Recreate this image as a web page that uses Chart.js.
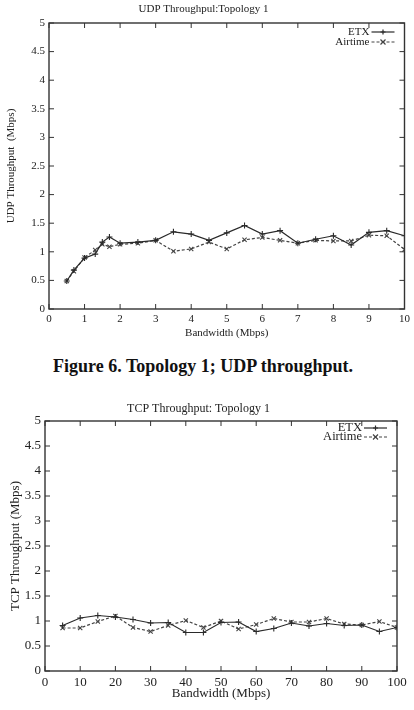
<!DOCTYPE html>
<html>
<head>
<meta charset="utf-8">
<script src="https://cdn.jsdelivr.net/npm/chart.js@4.4.1/dist/chart.umd.min.js"></script>
<style>
  body { margin: 0; background: #fff; width: 414px; height: 710px; position: relative; overflow: hidden; }
  .box { position: absolute; left: 0; width: 414px; }
  #caption {
    position: absolute; left: 0; width: 414px; top: 356px; text-align: center;
    font: bold 18px "Liberation Serif", "DejaVu Serif", serif; color: #111;
    padding-right: 8px; box-sizing: border-box;
  }
</style>
</head>
<body>
<div class="box" style="top:0;height:350px"><canvas id="udpChart" width="414" height="350"></canvas></div>
<div id="caption">Figure 6. Topology 1; UDP throughput.</div>
<div class="box" style="top:400px;height:310px"><canvas id="tcpChart" width="414" height="310"></canvas></div>
<script>
// UDP throughput, topology 1 (Mbps)
const udpBandwidth = [0.5, 0.7, 1, 1.3, 1.5, 1.7, 2, 2.5, 3, 3.5, 4, 4.5, 5, 5.5, 6, 6.5, 7, 7.5, 8, 8.5, 9, 9.5, 10];
const udpEtx     = [0.49, 0.68, 0.89, 0.96, 1.17, 1.26, 1.15, 1.17, 1.20, 1.35, 1.31, 1.20, 1.33, 1.46, 1.31, 1.37, 1.15, 1.22, 1.28, 1.12, 1.34, 1.37, 1.28];
const udpAirtime = [0.49, 0.66, 0.90, 1.03, 1.13, 1.09, 1.13, 1.15, 1.20, 1.01, 1.05, 1.17, 1.05, 1.21, 1.25, 1.20, 1.15, 1.20, 1.19, 1.19, 1.29, 1.28, 1.04];

// TCP throughput, topology 1 (Mbps)
const tcpBandwidth = [5, 10, 15, 20, 25, 30, 35, 40, 45, 50, 55, 60, 65, 70, 75, 80, 85, 90, 95, 100];
const tcpEtx     = [0.91, 1.06, 1.11, 1.08, 1.03, 0.96, 0.97, 0.77, 0.77, 0.97, 0.98, 0.79, 0.85, 0.96, 0.90, 0.95, 0.91, 0.92, 0.79, 0.87];
const tcpAirtime = [0.86, 0.86, 0.99, 1.10, 0.87, 0.79, 0.91, 1.01, 0.87, 1.00, 0.84, 0.93, 1.05, 0.98, 0.98, 1.05, 0.94, 0.92, 0.99, 0.87];

const seriesNames = ['ETX', 'Airtime'];
const serif = '"Liberation Serif", "DejaVu Serif", serif';

// gnuplot-like frame: box, inward ticks on all four sides, legend with text before the sample
const gnuFrame = {
    id: 'gnuFrame',
    afterDatasetsDraw(chart, args, opts) {
        const { ctx, chartArea: a, scales } = chart;
        const t = opts.tick;
        ctx.save();
        ctx.strokeStyle = '#333';
        ctx.lineWidth = 1.4;
        ctx.strokeRect(a.left, a.top, a.right - a.left, a.bottom - a.top);
        ctx.lineWidth = 1;
        ctx.beginPath();
        scales.x.ticks.forEach(tk => {
            const px = scales.x.getPixelForValue(tk.value);
            ctx.moveTo(px, a.bottom); ctx.lineTo(px, a.bottom - t);
            ctx.moveTo(px, a.top); ctx.lineTo(px, a.top + t);
        });
        scales.y.ticks.forEach(tk => {
            const py = scales.y.getPixelForValue(tk.value);
            ctx.moveTo(a.left, py); ctx.lineTo(a.left + t, py);
            ctx.moveTo(a.right, py); ctx.lineTo(a.right - t, py);
        });
        ctx.stroke();

        // legend
        ctx.font = opts.legendFont + 'px ' + serif;
        ctx.fillStyle = '#222';
        ctx.textAlign = 'right';
        ctx.textBaseline = 'middle';
        const x1 = a.right - opts.legendRight;
        const x0 = x1 - opts.sampleLen;
        chart.data.datasets.forEach((ds, i) => {
            const y = a.top + opts.legendTop + i * opts.legendGap;
            ctx.fillText(ds.label, x0 - 2, y);
            ctx.strokeStyle = ds.borderColor;
            ctx.lineWidth = ds.borderWidth;
            ctx.setLineDash(ds.borderDash || []);
            ctx.beginPath();
            ctx.moveTo(x0, y); ctx.lineTo(x1, y);
            ctx.stroke();
            ctx.setLineDash([]);
            const m = (x0 + x1) / 2, r = 2.5;
            ctx.beginPath();
            if (ds.pointStyle === 'cross') {
                ctx.moveTo(m - r, y); ctx.lineTo(m + r, y);
                ctx.moveTo(m, y - r); ctx.lineTo(m, y + r);
            } else {
                ctx.moveTo(m - r, y - r); ctx.lineTo(m + r, y + r);
                ctx.moveTo(m - r, y + r); ctx.lineTo(m + r, y - r);
            }
            ctx.stroke();
        });
        ctx.restore();
    }
};

function makeSeries(xs, ys, i) {
    return {
        label: seriesNames[i],
        data: xs.map((x, k) => ({ x: x, y: ys[k] })),
        borderColor: i === 0 ? '#2a2a2a' : '#444',
        borderWidth: 1.2,
        borderDash: i === 0 ? [] : [3, 2],
        pointStyle: i === 0 ? 'cross' : 'crossRot',
        pointRadius: 3,
        pointBorderWidth: 1.1,
        pointBorderColor: i === 0 ? '#2a2a2a' : '#444',
        backgroundColor: 'transparent',
        tension: 0
    };
}

function makeChart(id, o) {
    new Chart(document.getElementById(id), {
        type: 'line',
        data: {
            datasets: [makeSeries(o.xs, o.etx, 0), makeSeries(o.xs, o.air, 1)]
        },
        plugins: [gnuFrame],
        options: {
            responsive: false,
            animation: false,
            layout: { padding: { left: 0, right: o.padRight, top: 0, bottom: 0 } },
            scales: {
                x: {
                    type: 'linear', min: 0, max: o.xMax,
                    grid: { display: false, drawTicks: false },
                    border: { display: false },
                    ticks: { stepSize: o.xStep, autoSkip: false, maxRotation: 0, padding: 4, color: '#222', font: { family: serif, size: o.font }, callback: v => String(v) },
                    title: { display: true, text: 'Bandwidth (Mbps)', color: '#222', font: { family: serif, size: o.font }, padding: { top: 0, bottom: o.xTitlePad } },
                    afterFit: s => { s.height = o.xHeight; }
                },
                y: {
                    min: 0, max: 5,
                    grid: { display: false, drawTicks: false },
                    border: { display: false },
                    ticks: { stepSize: 0.5, padding: 4, color: '#222', font: { family: serif, size: o.font }, callback: v => String(v) },
                    title: { display: true, text: o.yTitle, color: '#222', font: { family: serif, size: o.font }, padding: { top: o.yTitlePad, bottom: 0 } },
                    afterFit: s => { s.width = o.yWidth; }
                }
            },
            plugins: {
                legend: { display: false },
                tooltip: { enabled: false },
                title: {
                    display: true, text: o.title, color: '#222',
                    font: { family: serif, size: o.titleFont, weight: 'normal' },
                    padding: { top: o.titleTop, bottom: o.titleBottom }
                },
                gnuFrame: o.frame
            }
        }
    });
}

makeChart('udpChart', {
    xs: udpBandwidth, etx: udpEtx, air: udpAirtime,
    xMax: 10, xStep: 1, font: 11, titleFont: 11,
    title: 'UDP Throughpul:Topology 1', yTitle: 'UDP Throughput  (Mbps)',
    padRight: 7, xHeight: 41, yWidth: 49, xTitlePad: 10, yTitlePad: 5,
    titleTop: 2.5, titleBottom: 7.3,
    frame: { tick: 5, legendFont: 11, legendRight: 10, sampleLen: 23, legendTop: 9, legendGap: 10 }
});

makeChart('tcpChart', {
    xs: tcpBandwidth, etx: tcpEtx, air: tcpAirtime,
    xMax: 100, xStep: 10, font: 13, titleFont: 12,
    title: 'TCP Throughput: Topology 1', yTitle: 'TCP Throughput (Mbps)',
    padRight: 17, xHeight: 39, yWidth: 45, xTitlePad: 9, yTitlePad: 8,
    titleTop: 2, titleBottom: 4.6,
    frame: { tick: 5, legendFont: 12.5, legendRight: 10, sampleLen: 23, legendTop: 7, legendGap: 9 }
});
</script>
</body>
</html>
